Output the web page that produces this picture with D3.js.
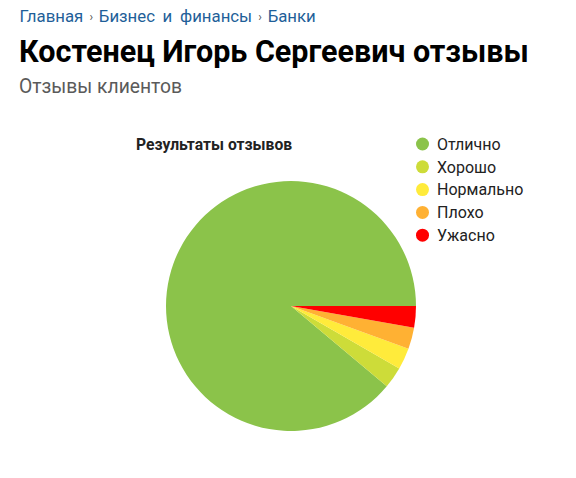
<!DOCTYPE html>
<html>
<head>
<meta charset="utf-8">
<script src="https://cdn.jsdelivr.net/npm/d3@7"></script>
<style>
  body { margin: 0; background: #fff; font-family: Roboto, "Noto Sans", sans-serif; }
  #chart { width: 576px; height: 478px; }
</style>
</head>
<body>
<div id="chart"></div>
<script>
"use strict";

var crumbs = ["Главная", "Бизнес и финансы", "Банки"];
var pageTitle = "Костенец Игорь Сергеевич отзывы";
var pageSubtitle = "Отзывы клиентов";
var chartTitle = "Результаты отзывов";

var categories = ["Отлично", "Хорошо", "Нормально", "Плохо", "Ужасно"];
var counts = [32, 1, 1, 1, 1];
var colors = ["#8bc34a", "#cddc39", "#ffeb3b", "#ffb133", "#ff0000"];

var width = 576, height = 478;

var svg = d3.select("#chart")
    .append("svg")
    .attr("width", width)
    .attr("height", height);

// breadcrumb, laid out word by word
var crumbX = 19.5;
crumbs.forEach(function(c, i){
    if (i > 0) {
        svg.append("text")
            .attr("x", crumbX + 8)
            .attr("y", 21)
            .attr("text-anchor", "middle")
            .attr("fill", "#555")
            .style("font-size", "12px")
            .text("›");
        crumbX += 15.5;
    }
    var t = svg.append("text")
        .attr("x", crumbX)
        .attr("y", 21.5)
        .attr("fill", "#1f5f99")
        .style("font-size", "16.8px")
        .style("word-spacing", "3.5px")
        .text(c);
    crumbX += t.node().getComputedTextLength();
});

svg.append("text")
    .attr("x", 19)
    .attr("y", 62)
    .attr("fill", "#000")
    .style("font-size", "30.5px")
    .style("font-weight", "bold")
    .text(pageTitle);

svg.append("text")
    .attr("x", 19)
    .attr("y", 92.5)
    .attr("fill", "#5a5a5a")
    .style("font-size", "19.3px")
    .text(pageSubtitle);

svg.append("text")
    .attr("x", 136)
    .attr("y", 149.5)
    .attr("fill", "#222")
    .style("font-size", "15.7px")
    .style("font-weight", "bold")
    .text(chartTitle);

// pie
var color = d3.scaleOrdinal().domain(categories).range(colors);

var pie = d3.pie()
    .sort(null)
    .value(function(d){ return d.count; })
    .startAngle(Math.PI / 2)
    .endAngle(Math.PI / 2 - 2 * Math.PI);

var data = categories.map(function(c, i){ return {name: c, count: counts[i]}; });

var arc = d3.arc().innerRadius(0).outerRadius(125);

svg.append("g")
    .attr("transform", "translate(291,306)")
    .selectAll("path")
    .data(pie(data))
    .enter()
    .append("path")
    .attr("d", arc)
    .attr("fill", function(d){ return color(d.data.name); });

// legend
var legend = svg.append("g")
    .selectAll("g")
    .data(categories)
    .enter()
    .append("g")
    .attr("transform", function(d, i){ return "translate(422.5," + (144 + i * 22.8) + ")"; });

legend.append("circle")
    .attr("r", 6.5)
    .attr("fill", function(d){ return color(d); });

legend.append("text")
    .attr("x", 14.5)
    .attr("y", 5.8)
    .attr("fill", "#222")
    .style("font-size", "16px")
    .text(function(d){ return d; });
</script>
</body>
</html>
